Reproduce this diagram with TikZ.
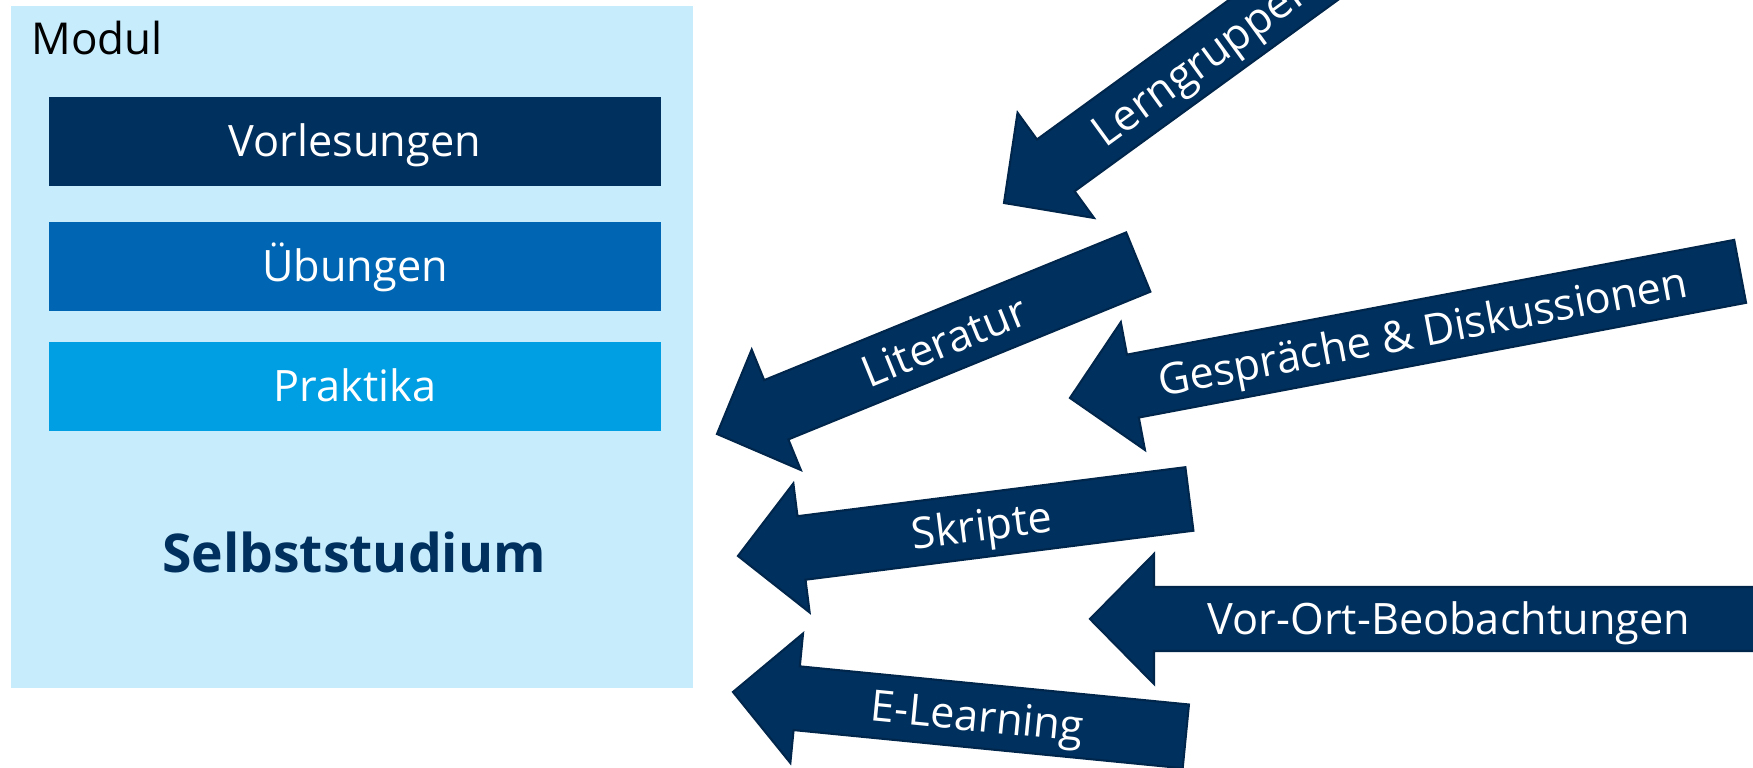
\documentclass[tikz,border=0pt]{standalone}
\usepackage{fontspec}
\setmainfont{Open Sans}
\usepackage{tikz}
\usetikzlibrary{positioning}
\definecolor{modulbg}{RGB}{199,236,252}
\definecolor{navy}{RGB}{0,48,94}
\definecolor{navyedge}{RGB}{0,38,76}
\definecolor{midblue}{RGB}{0,102,179}
\definecolor{lightblue}{RGB}{0,159,227}

\tikzset{
  barbox/.style={minimum width=6.12cm, minimum height=0.89cm, inner sep=0pt,
    text=white, text height=0.31cm, text depth=0cm, font=\fontsize{12.3}{15}\selectfont},
  arrowfill/.style={fill=navy, draw=navyedge, line width=0.6pt},
  arrowtext/.style={text=white, inner sep=0pt, text height=0.31cm, text depth=0cm,
    font=\fontsize{12.3}{15}\selectfont}
}

\begin{document}
\begin{tikzpicture}[x=0.01cm, y=0.01cm]
  \useasboundingbox (0,0) rectangle (1753,768);
  \clip (0,0) rectangle (1753,768);
  % Modul
  \fill[modulbg] (11,80) rectangle (693,762);
  \node[anchor=base west, inner sep=0pt, font=\fontsize{12.5}{15}\selectfont] (modul) at (31,713) {Modul};
  \node[barbox, fill=navy] (vorl) at (355,626.5) {Vorlesungen};
  \node[barbox, fill=midblue] (uebg) at (355,501.5) {Übungen};
  \node[barbox, fill=lightblue] (prak) at (355,381.5) {Praktika};
  \node[anchor=base, inner sep=0pt, text=navy, font=\fontsize{15.2}{18}\selectfont\bfseries] (selbst) at (354,195.5) {Selbststudium};
  % Arrows: tip x / tip y / angle / length / label
  \foreach \tx/\ty/\ang/\len/\lbl [count=\i] in {
      1004/565/36/455/Lerngruppen,
      717/334/22.2/455/Literatur,
      1070/370/10.7/682/Gespräche \& Diskussionen,
      738/212/7.2/455/Skripte,
      1090/149/0/682/Vor-Ort-Beobachtungen,
      733/76/-5.6/455/E-Learning} {
    \begin{scope}[shift={(\tx,\ty)}, rotate=\ang]
      \draw[arrowfill] (0,0) -- (64,65) -- (64,32) -- (\len,32) -- (\len,-32)
        -- (64,-32) -- (64,-65) -- cycle;
      \pgfmathsetmacro{\tl}{(\len+64)/2-14}
      \node[arrowtext, rotate=\ang] (src\i) at (\tl,0) {\lbl};
    \end{scope}
  }
\end{tikzpicture}
\end{document}
